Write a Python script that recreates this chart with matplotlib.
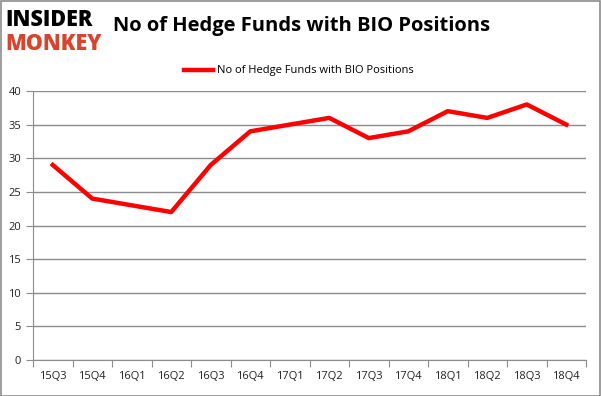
"""
Hedge fund holdings chart for BIO, quarterly counts
"""

import numpy as np
import matplotlib.pyplot as plt
from matplotlib.patches import Rectangle

##################################################

quarters = ["15Q3", "15Q4", "16Q1", "16Q2", "16Q3", "16Q4", "17Q1",
            "17Q2", "17Q3", "17Q4", "18Q1", "18Q2", "18Q3", "18Q4"]
n_funds = [29, 24, 23, 22, 29, 34, 35, 36, 33, 34, 37, 36, 38, 35]
y_ticks = [0, 5, 10, 15, 20, 25, 30, 35, 40]
series_name = "No of Hedge Funds with BIO Positions"

##################################################

plt.rcParams['font.family'] = ['Open Sans', 'DejaVu Sans']

fig = plt.figure(figsize=(6.01, 3.96), dpi=100)
fig.patches.append(Rectangle((0.001, 0.001), 0.997, 0.996, transform=fig.transFigure,
                             fill=False, edgecolor="#8c8c8c", linewidth=1.2))

ax = fig.add_axes([33/601, 1 - 360/396, (586 - 33)/601, (360 - 91)/396])
x = np.arange(len(quarters))
line, = ax.plot(x, n_funds, color="#ff0000", linewidth=3.2, solid_joinstyle="round",
                label=series_name)

ax.set_xlim(-0.5, len(quarters) - 0.5)
ax.set_ylim(0, 40)
ax.set_yticks(y_ticks)
ax.yaxis.grid(True, color="#8c8c8c", linewidth=1)
ax.set_axisbelow(True)

# ticks at category boundaries, labels centred
ax.set_xticks(np.arange(len(quarters) + 1) - 0.5)
ax.set_xticklabels([])
ax.set_xticks(x, minor=True)
ax.set_xticklabels(quarters, minor=True)
ax.tick_params(axis="x", which="major", length=5, color="#8c8c8c", direction="out")
ax.tick_params(axis="x", which="minor", length=0, pad=8, labelsize=8, labelcolor="#222222")
ax.tick_params(axis="y", length=5, color="#8c8c8c", labelsize=8, labelcolor="#222222")

for s in ["top", "right"]:
    ax.spines[s].set_visible(False)
for s in ["left", "bottom"]:
    ax.spines[s].set_color("#8c8c8c")

fig.text(113/601, 1 - 26/396, "No of Hedge Funds with BIO Positions", fontsize=14.5,
         fontweight="bold", va="center", ha="left", color="black")

# logo
fig.text(5/601, 1 - 20/396, "INSIDER", fontsize=15.5, fontweight="heavy", va="center",
         ha="left", color="black")
fig.text(5/601, 1 - 44/396, "MONKEY", fontsize=15.5, fontweight="heavy", va="center",
         ha="left", color="#d9442e")

fig.legend(handles=[line], loc="center", bbox_to_anchor=(0.497, 1 - 71/396), frameon=False,
           fontsize=8, handlelength=2.6, handletextpad=0.4)

plt.savefig("out.png", dpi=100)
